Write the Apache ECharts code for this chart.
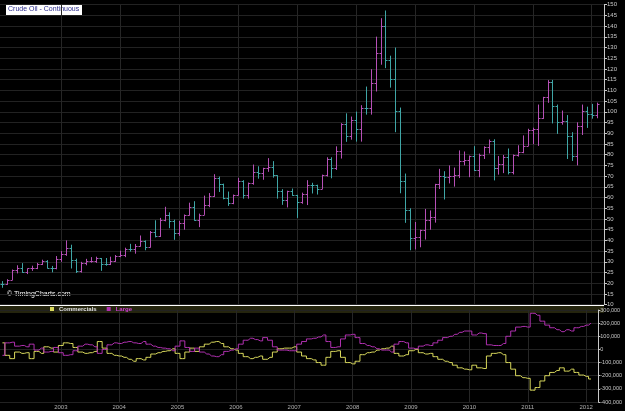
<!DOCTYPE html>
<html>
<head>
<meta charset="utf-8">
<script src="https://cdn.jsdelivr.net/npm/echarts@6/dist/echarts.min.js"></script>
<style>
  html, body { margin: 0; padding: 0; background: #000; }
  #main { width: 625px; height: 411px; }
</style>
</head>
<body>
<div id="main"></div>
<script>
// monthly crude oil bars, Jan 2002 .. Feb 2012
let opens = [
  19.8, 19.5, 21.7, 26.3, 27.3, 25.3, 26.9, 27.0, 28.9, 30.5, 27.2, 26.9,
  31.2, 33.5, 36.6, 31.0, 25.8, 29.6, 30.2, 30.5, 31.6, 29.2, 29.1, 30.4,
  32.5, 33.1, 36.2, 35.8, 37.4, 39.9, 37.1, 43.8, 42.1, 49.6, 51.8, 49.1,
  43.5, 48.2, 51.8, 55.4, 49.7, 52.0, 56.5, 60.6, 68.9, 66.2, 59.8, 57.3,
  61.0, 67.9, 61.4, 66.6, 71.9, 71.3, 73.9, 74.4, 70.3, 62.9, 58.7, 63.1,
  61.1, 58.1, 61.8, 65.9, 65.7, 64.0, 70.7, 78.2, 74.0, 81.7, 94.5, 88.7,
  96.0, 91.8, 101.8, 101.6, 113.5, 127.4, 140.0, 124.1, 115.5, 100.6, 67.8, 54.4,
  41.0, 41.7, 44.8, 49.7, 51.1, 66.3, 69.9, 69.5, 70.0, 70.6, 77.0, 77.3,
  79.4, 72.9, 79.7, 83.8, 86.2, 74.0, 75.6, 79.0, 71.9, 80.0, 81.4, 84.1,
  91.4, 92.2, 97.0, 106.7, 113.9, 102.7, 95.4, 95.7, 88.8, 79.2, 93.2, 100.4,
  98.8, 98.5
];
let highs = [
  21.0, 21.9, 26.4, 28.4, 29.4, 26.9, 28.2, 29.5, 31.0, 30.8, 28.1, 32.7,
  35.0, 40.0, 38.0, 31.5, 30.0, 31.4, 32.2, 32.4, 31.8, 31.8, 32.4, 33.2,
  35.2, 36.6, 38.4, 38.3, 42.3, 40.0, 44.4, 49.4, 50.5, 55.7, 53.1, 49.7,
  49.1, 52.1, 57.6, 58.3, 52.5, 60.9, 62.1, 70.9, 69.8, 66.5, 62.8, 61.4,
  69.2, 68.1, 67.0, 75.4, 74.6, 73.9, 78.4, 77.0, 70.4, 63.9, 63.2, 64.2,
  61.3, 62.3, 68.1, 66.9, 66.0, 70.7, 78.8, 78.8, 83.9, 94.7, 99.3, 97.8,
  100.1, 103.1, 111.8, 119.9, 135.1, 143.7, 147.3, 126.2, 130.0, 102.0, 71.2, 55.0,
  48.6, 45.0, 54.7, 54.0, 66.4, 73.4, 72.3, 75.0, 74.0, 82.0, 81.5, 79.6,
  84.0, 80.5, 83.9, 87.1, 87.2, 79.4, 79.9, 82.9, 80.1, 84.4, 89.0, 92.1,
  92.6, 103.4, 107.0, 114.8, 114.9, 103.4, 100.6, 98.5, 90.5, 95.1, 103.4, 102.4,
  103.7, 104.3
];
let lows = [
  17.9, 19.3, 21.5, 24.6, 24.9, 24.3, 25.8, 26.6, 28.5, 26.9, 25.1, 26.5,
  30.0, 32.8, 26.9, 24.8, 25.0, 28.4, 29.6, 29.5, 25.8, 28.2, 28.5, 30.0,
  32.2, 32.2, 34.8, 33.8, 37.1, 35.4, 36.7, 41.4, 41.6, 48.9, 45.7, 40.3,
  42.1, 45.0, 51.6, 49.2, 46.2, 51.9, 55.5, 60.3, 62.6, 59.2, 56.1, 56.9,
  61.0, 59.5, 59.5, 66.0, 68.8, 68.3, 72.0, 69.3, 59.5, 56.6, 55.4, 60.8,
  50.5, 57.1, 56.5, 61.9, 61.4, 64.0, 69.8, 69.0, 72.9, 78.2, 86.0, 87.0,
  86.1, 86.1, 98.7, 98.7, 109.5, 122.0, 120.4, 111.3, 90.5, 62.0, 48.2, 35.4,
  35.8, 36.8, 40.4, 45.0, 48.3, 64.0, 59.1, 66.6, 65.1, 69.1, 75.0, 69.5,
  72.4, 69.5, 78.0, 80.6, 68.0, 70.7, 71.4, 70.8, 70.8, 79.1, 80.7, 84.1,
  84.9, 84.1, 96.7, 104.2, 94.6, 89.7, 94.0, 78.0, 77.1, 75.0, 89.2, 92.5,
  96.8, 97.0
];
let closes = [
  19.5, 21.7, 26.3, 27.3, 25.3, 26.9, 27.0, 28.9, 30.5, 27.2, 26.9, 31.2,
  33.5, 36.6, 31.0, 25.8, 29.6, 30.2, 30.5, 31.6, 29.2, 29.1, 30.4, 32.5,
  33.1, 36.2, 35.8, 37.4, 39.9, 37.1, 43.8, 42.1, 49.6, 51.8, 49.1, 43.5,
  48.2, 51.8, 55.4, 49.7, 52.0, 56.5, 60.6, 68.9, 66.2, 59.8, 57.3, 61.0,
  67.9, 61.4, 66.6, 71.9, 71.3, 73.9, 74.4, 70.3, 62.9, 58.7, 63.1, 61.1,
  58.1, 61.8, 65.9, 65.7, 64.0, 70.7, 78.2, 74.0, 81.7, 94.5, 88.7, 96.0,
  91.8, 101.8, 101.6, 113.5, 127.4, 140.0, 124.1, 115.5, 100.6, 67.8, 54.4, 41.0,
  41.7, 44.8, 49.7, 51.1, 66.3, 69.9, 69.5, 70.0, 70.6, 77.0, 77.3, 79.4,
  72.9, 79.7, 83.8, 86.2, 74.0, 75.6, 79.0, 71.9, 80.0, 81.4, 84.1, 91.4,
  92.2, 97.0, 106.7, 113.9, 102.7, 95.4, 95.7, 88.8, 79.2, 93.2, 100.4, 98.8,
  98.5, 103.5
];

// net positions, thousands of contracts
let commercials = [
  50, -45, -70, -20, -30, -25, -70, -15, -30, 20, 10, -20,
  30, 50, 45, 15, -20, -30, -25, -15, 60, 10, -30, -45,
  -50, -60, -75, -90, -70, -80, -60, -35, -25, -15, -10, 5,
  -30, -70, -20, 10, -15, 20, 40, 55, 60, 45, 20, 5,
  -5, -30, -55, -70, -60, -50, -75, -60, -20, 5, 10, 10,
  20, -20, -50, -70, -80, -100, -120, -60, -15, -10, -60, -100,
  -110, -90, -40, -25, -20, -5, 5, 10, 25, -30, -50, -40,
  -10, 0, -25, -35, -30, -55, -75, -90, -100, -120, -140, -150,
  -155, -120, -140, -145, -50, -30, -25, -40, -100, -150, -200, -215,
  -220, -310, -290, -240, -200, -175, -160, -140, -165, -150, -175, -195,
  -205, -225
];
let large = [
  -45, 50, 55, 25, 30, 20, 40, -5, 10, -20, -15, 15,
  -25, -45, -40, -10, 25, 40, 35, 20, -30, 0, 35, 50,
  45, 55, 60, 50, 45, 60, 40, 25, 15, 10, 5, -10,
  25, 65, 15, -15, 10, -20, -35, -50, -55, -40, -15, -5,
  5, 40, 70, 85, 75, 65, 90, 70, 20, -5, -5, -10,
  -10, 40, 60, 80, 85, 95, 110, 60, 15, 20, 80, 110,
  115, 90, 45, 30, 20, 5, -5, -5, -20, 40, 60, 50,
  10, 5, 25, 35, 30, 50, 70, 90, 100, 115, 130, 140,
  140, 110, 125, 120, 35, 30, 30, 45, 100, 140, 170, 175,
  170, 275, 260, 215, 185, 165, 150, 135, 150, 140, 165, 175,
  185, 200
];

let months = [];
for (let y = 2002; y <= 2012; y++) {
  for (let m = 1; m <= 12; m++) {
    if (y === 2012 && m > 3) break;
    months.push(y + '-' + (m < 10 ? '0' + m : m));
  }
}

let upColor = '#b650b6';
let downColor = '#3fa6a6';
let fontName = 'Liberation Sans, Arial, sans-serif';

let bars = opens.map(function (o, i) {
  return [i, o, highs[i], lows[i], closes[i]];
});

// year lines and labels on every January except the first
function isJan(index, value) {
  return index > 0 && months[index] && months[index].slice(5) === '01';
}

function renderOhlc(params, api) {
  let i = api.value(0);
  let o = api.coord([i, api.value(1)]);
  let h = api.coord([i, api.value(2)]);
  let l = api.coord([i, api.value(3)]);
  let c = api.coord([i, api.value(4)]);
  let color = api.value(4) >= api.value(1) ? upColor : downColor;
  let x = Math.round(h[0]) + 0.5;
  let st = { stroke: color, lineWidth: 1 };
  let yo = Math.round(o[1]) + 0.5;
  let yc = Math.round(c[1]) + 0.5;
  return {
    type: 'group',
    children: [
      { type: 'line', shape: { x1: x, y1: h[1], x2: x, y2: l[1] }, style: st },
      { type: 'line', shape: { x1: x - 2, y1: yo, x2: x, y2: yo }, style: st },
      { type: 'line', shape: { x1: x, y1: yc, x2: x + 2, y2: yc }, style: st }
    ]
  };
}

let myChart = echarts.init(document.getElementById('main'));

let option = {
  backgroundColor: '#000',
  animation: false,
  textStyle: { fontFamily: fontName },
  grid: [
    { left: 0, right: 21, top: 4.7, height: 300 },
    { left: 0, right: 21, top: 310, height: 92 }
  ],
  legend: {
    left: 50, top: 306, padding: 0,
    icon: 'rect', itemWidth: 4, itemHeight: 4, itemGap: 10,
    textStyle: { fontSize: 6, color: '#e0e0e0', fontWeight: 'bold' },
    data: [
      { name: 'Commercials' },
      { name: 'Large', textStyle: { color: '#d040d0' } }
    ]
  },
  xAxis: [
    {
      type: 'category', gridIndex: 0, data: months,
      axisLine: { show: false }, axisTick: { show: false }, axisLabel: { show: false },
      splitLine: { show: true, interval: isJan, alignWithLabel: true, lineStyle: { color: '#262626' } }
    },
    {
      type: 'category', gridIndex: 1, data: months,
      axisLine: { show: false }, axisTick: { show: false },
      axisLabel: {
        interval: isJan, fontSize: 6, color: '#b0b0b0', margin: 2,
        formatter: function (v) { return v.slice(0, 4); }
      },
      splitLine: { show: true, interval: isJan, alignWithLabel: true, lineStyle: { color: '#262626' } }
    }
  ],
  yAxis: [
    {
      type: 'value', gridIndex: 0, position: 'right',
      min: 10, max: 150, interval: 5,
      axisLine: { show: true, lineStyle: { color: '#c8c8c8' } },
      axisTick: { show: true, length: 3, lineStyle: { color: '#c8c8c8' } },
      axisLabel: { fontSize: 6, color: '#c8c8c8', margin: 3 },
      splitLine: { lineStyle: { color: '#222' } }
    },
    {
      type: 'value', gridIndex: 1, position: 'right',
      min: -400, max: 300, interval: 100,
      axisLine: { show: true, lineStyle: { color: '#c8c8c8' } },
      axisTick: { show: true, length: 2, lineStyle: { color: '#c8c8c8' } },
      axisLabel: {
        fontSize: 5.5, color: '#c8c8c8', margin: 2,
        formatter: function (v) { return v === 0 ? '0' : v + ',000'; }
      },
      splitLine: { lineStyle: { color: '#222' } }
    }
  ],
  graphic: [
    { type: 'rect', shape: { x: 0, y: 306, width: 604, height: 7 }, style: { fill: '#25250e' }, z: -1 },
    { type: 'line', shape: { x1: 0, y1: 305, x2: 604, y2: 305 }, style: { stroke: '#fff', lineWidth: 2 } },
    { type: 'rect', shape: { x: 6, y: 4, width: 76, height: 11 }, style: { fill: '#fff' } },
    {
      type: 'text', x: 8, y: 9.5,
      style: { text: 'Crude Oil - Continuous', fill: '#2b2b8c', font: '7px ' + fontName, verticalAlign: 'middle' }
    },
    {
      type: 'text', x: 7, y: 294,
      style: { text: '\u00a9 TimingCharts.com', fill: '#fff', font: '7px ' + fontName, verticalAlign: 'middle' }
    }
  ],
  series: [
    {
      name: 'Crude Oil', type: 'custom', xAxisIndex: 0, yAxisIndex: 0,
      renderItem: renderOhlc, encode: { x: 0, y: [1, 2, 3, 4] },
      data: bars
    },
    {
      name: 'Commercials', type: 'line', xAxisIndex: 1, yAxisIndex: 1,
      step: 'middle', showSymbol: false, color: '#d8d85c',
      lineStyle: { width: 1 }, data: commercials
    },
    {
      name: 'Large', type: 'line', xAxisIndex: 1, yAxisIndex: 1,
      step: 'middle', showSymbol: false, color: '#b030b0',
      lineStyle: { width: 1 }, data: large
    }
  ]
};

myChart.setOption(option);
</script>
</body>
</html>
